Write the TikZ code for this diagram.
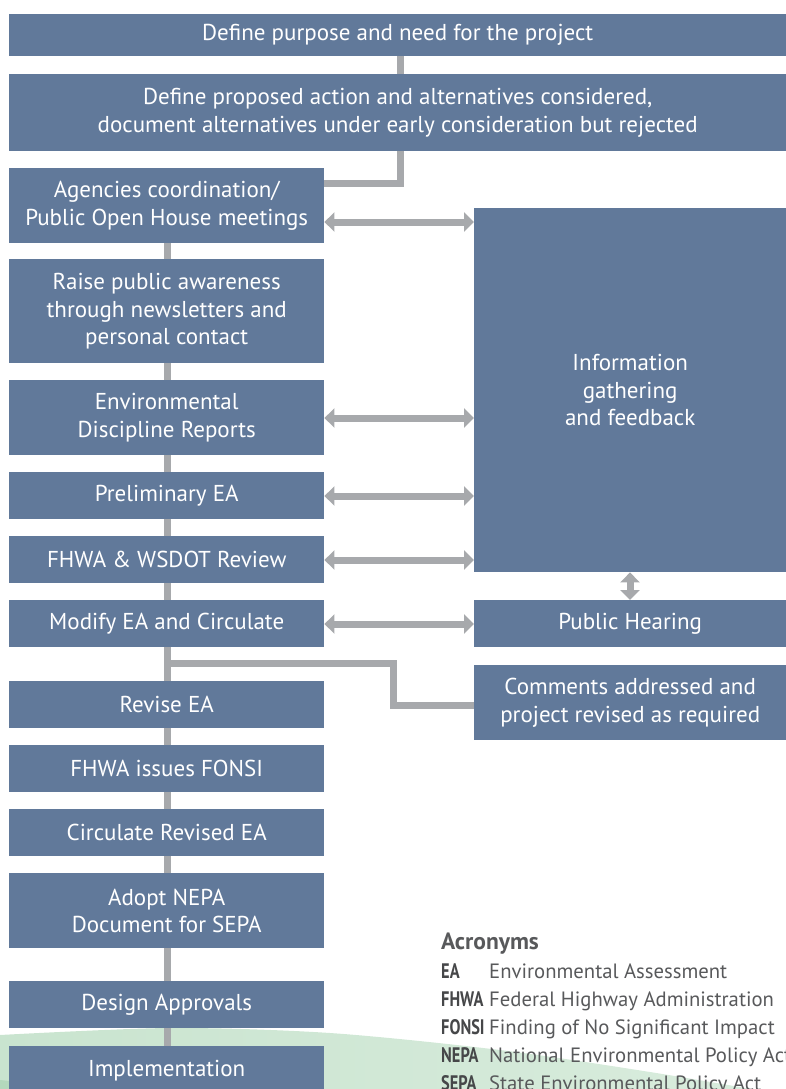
\documentclass[tikz,border=0pt]{standalone}
\usepackage{fontspec}
\setmainfont{PT Sans}
\usetikzlibrary{arrows.meta}
\definecolor{boxblue}{HTML}{61799A}
\definecolor{linegray}{HTML}{A7A9AC}
\definecolor{txtgray}{HTML}{58595B}
\definecolor{hill}{HTML}{C9E4CF}
\definecolor{hilldark}{HTML}{B3D8BC}
\begin{document}
\begin{tikzpicture}[x=1pt,y=-1pt,
  box/.style={fill=boxblue, text=white, font=\fontsize{23}{27.5}\selectfont, align=center, inner sep=0pt, anchor=north west},
  lbox/.style={box, minimum width=315pt},
  rbox/.style={box, minimum width=312pt},
  conn/.style={draw=linegray, line width=7pt},
  dbl/.style={conn, {Triangle[width=19pt,length=10pt]}-{Triangle[width=19pt,length=10pt]}},
  abbr/.style={anchor=base west, inner sep=0pt, text=txtgray!80!black, font=\fontsize{21}{22}\selectfont\bfseries},
  desc/.style={anchor=base west, inner sep=0pt, text=txtgray, font=\fontsize{20.7}{22}\selectfont}]
\useasboundingbox (0,0) rectangle (786,1089);
% background hill
\begin{scope}
\clip (0,0) rectangle (786,1089);
\shade[left color=hill, right color=hill!70!white] plot[smooth] coordinates {(0,1035) (170,1028) (330,1033) (500,1050) (650,1072) (786,1095)} -- (786,1100) -- (0,1100) -- cycle;
\fill[hilldark] (0,1080) .. controls (20,1082) and (40,1085) .. (60,1092) -- (0,1092) -- cycle;
\end{scope}
% boxes
\node[box, minimum width=777pt, minimum height=42pt] (b1) at (9,14) {Define purpose and need for the project};
\node[box, minimum width=777pt, minimum height=77pt] (b2) at (9,74) {Define proposed action and alternatives considered,\\document alternatives under early consideration but rejected};
\node[lbox, minimum height=75pt] (b3) at (9,168) {Agencies coordination/\\Public Open House meetings};
\node[lbox, minimum height=104pt] (b4) at (9,259) {Raise public awareness\\through newsletters and\\personal contact};
\node[lbox, minimum height=75pt] (b5) at (9,380) {Environmental\\Discipline Reports};
\node[lbox, minimum height=47pt] (b6) at (9,472) {Preliminary EA};
\node[lbox, minimum height=47pt] (b7) at (9,536) {FHWA \& WSDOT Review};
\node[lbox, minimum height=47pt] (b8) at (9,600) {Modify EA and Circulate};
\node[lbox, minimum height=47pt] (b9) at (9,681) {Revise EA};
\node[lbox, minimum height=47pt] (b10) at (9,745) {FHWA issues FONSI};
\node[lbox, minimum height=47pt] (b11) at (9,809) {Circulate Revised EA};
\node[lbox, minimum height=75pt] (b12) at (9,873) {Adopt NEPA\\Document for SEPA};
\node[lbox, minimum height=47pt] (b13) at (9,981) {Design Approvals};
\node[lbox, minimum height=48pt] (b14) at (9,1046) {Implementation};
\node[rbox, minimum height=364pt] (info) at (474,208) {Information\\gathering\\and feedback};
\node[rbox, minimum height=47pt] (hear) at (474,600) {Public Hearing};
\node[rbox, minimum height=75pt] (comm) at (474,665) {Comments addressed and\\project revised as required};
% connectors
\coordinate (t1) at (400,56);
\coordinate (e1) at (400,183);
\coordinate (k1) at (167,663);
\coordinate (k2) at (393,663);
\coordinate (k3) at (393,705);
\draw[conn] (b1.south -| t1) -- (b2.north -| t1);
\draw[conn] (b2.south -| t1) -- (e1) -- (e1 -| b3.east);
\draw[conn] (b3.south -| k1) -- (b4.north -| k1);
\draw[conn] (b4.south -| k1) -- (b5.north -| k1);
\draw[conn] (b5.south -| k1) -- (b6.north -| k1);
\draw[conn] (b6.south -| k1) -- (b7.north -| k1);
\draw[conn] (b7.south -| k1) -- (b8.north -| k1);
\draw[conn] (b8.south -| k1) -- (b9.north -| k1);
\draw[conn] (b9.south -| k1) -- (b10.north -| k1);
\draw[conn] (b10.south -| k1) -- (b11.north -| k1);
\draw[conn] (b11.south -| k1) -- (b12.north -| k1);
\draw[conn] (b12.south -| k1) -- (b13.north -| k1);
\draw[conn] (b13.south -| k1) -- (b14.north -| k1);
\draw[conn] (k1) -- (k2) -- (k3) -- (k3 -| comm.west);
% double arrows
\coordinate (a1) at (0,222);
\coordinate (a2) at (0,418);
\coordinate (a3) at (0,496);
\coordinate (a4) at (0,560);
\coordinate (a5) at (0,624);
\coordinate (av) at (630,0);
\draw[dbl] (a1 -| b3.east) -- (a1 -| info.west);
\draw[dbl] (a2 -| b5.east) -- (a2 -| info.west);
\draw[dbl] (a3 -| b6.east) -- (a3 -| info.west);
\draw[dbl] (a4 -| b7.east) -- (a4 -| info.west);
\draw[dbl] (a5 -| b8.east) -- (a5 -| hear.west);
\draw[dbl] (info.south -| av) -- (hear.north -| av);
% acronyms
\node[anchor=base west, inner sep=0pt, text=txtgray, font=\fontsize{23.5}{26}\selectfont\bfseries] (acr) at (441,949) {Acronyms};
\node[abbr] (x1) at (441,978) {\scalebox{0.78}[1]{EA}};
\node[desc] (d1) at (489,978) {Environmental Assessment};
\node[abbr] (x2) at (441,1006) {\scalebox{0.78}[1]{FHWA}};
\node[desc] (d2) at (489,1006) {Federal Highway Administration};
\node[abbr] (x3) at (441,1034) {\scalebox{0.78}[1]{FONSI}};
\node[desc] (d3) at (489,1034) {Finding of No Significant Impact};
\node[abbr] (x4) at (441,1062) {\scalebox{0.78}[1]{NEPA}};
\node[desc] (d4) at (489,1062) {National Environmental Policy Act};
\node[abbr] (x5) at (441,1090) {\scalebox{0.78}[1]{SEPA}};
\node[desc] (d5) at (489,1090) {State Environmental Policy Act};
\end{tikzpicture}
\end{document}
